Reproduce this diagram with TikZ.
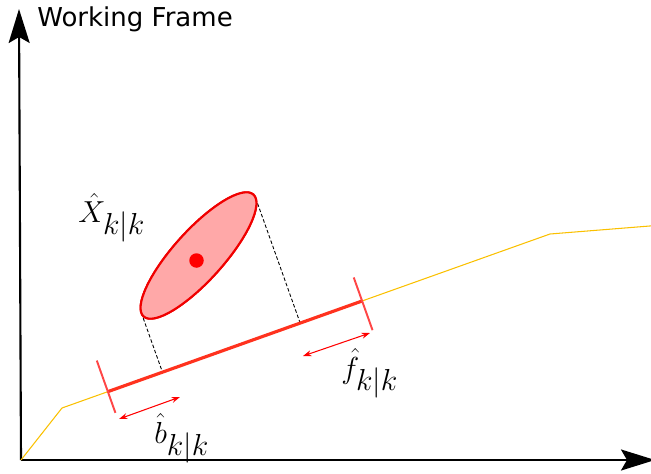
\documentclass[tikz,border=0pt]{standalone}
\usepackage{fontspec}
\usepackage{amsmath}
\usepackage{xcolor}
\usetikzlibrary{shapes.geometric, arrows.meta, positioning, calc}
\newfontfamily\framefont{DejaVu Sans}
\DeclareMathSizes{18}{18}{16}{12}

\definecolor{pathyellow}{RGB}{250,192,0}
\definecolor{segred}{RGB}{255,50,30}
\definecolor{tickred}{RGB}{255,70,70}
\definecolor{covfill}{RGB}{255,168,168}
\definecolor{covred}{RGB}{240,0,0}

\begin{document}
\begin{tikzpicture}[font=\fontsize{18}{21}\selectfont,
    axis/.style={line width=1.2pt, -{Stealth[length=0.68cm, width=0.42cm, inset=0.12cm]}},
    track/.style={pathyellow, line width=0.6pt},
    segment/.style={segred, line width=1.8pt},
    tickline/.style={tickred, line width=1.1pt},
    projline/.style={black, line width=0.5pt, dash pattern=on 2pt off 1.2pt},
    covell/.style={ellipse, draw=covred, fill=covfill, line width=1.2pt, inner sep=0pt,
        minimum width=3.28cm, minimum height=1cm},
    mean/.style={circle, fill=red, inner sep=0pt, minimum size=0.29cm},
    bound/.style={red, line width=0.6pt, {Stealth[length=0.17cm, width=0.12cm]}-{Stealth[length=0.17cm, width=0.12cm]}},
    lbl/.style={anchor=base west, inner sep=0pt}
]
\useasboundingbox (-0.42,-0.26) rectangle (12.6,9.2);

% Axes
\coordinate (origin) at (0,0);
\coordinate (ytip) at (-0.04,9.02);
\coordinate (xtip) at (12.68,0);
\draw[axis] (origin) -- (ytip);
\draw[axis] (origin) -- (xtip);
\node[lbl, font=\framefont\fontsize{14.8}{17}\selectfont] (frame) at (0.32,8.66) {Working Frame};

% Track
\coordinate (p1) at (0.82,1.04);
\coordinate (p2) at (10.58,4.52);
\coordinate (p3) at (12.7,4.69);
\draw[track] (origin) -- (p1) -- (p2) -- (p3);

% Segment and its end marks
\coordinate (segL) at ($(p1)!0.094!(p2)$);
\coordinate (segR) at ($(p1)!0.615!(p2)$);
\coordinate (tickLtop) at ($(segL)!0.66cm!90:(segR)$);
\coordinate (tickLbot) at ($(segL)!0.45cm!-90:(segR)$);
\coordinate (tickRtop) at ($(segR)!0.5cm!-90:(segL)$);
\coordinate (tickRbot) at ($(segR)!0.62cm!90:(segL)$);

% Estimate
\node[covell, rotate=48] (cov) at (3.55,4.09) {};
\begin{scope}[shift={(cov.center)}, rotate=48]
\coordinate (tanA) at (-9.4:1.64 and 0.5);
\coordinate (tanB) at (170.6:1.64 and 0.5);
\end{scope}
\draw[projline] (tanA) -- ($(segL)!(tanA)!(segR)$);
\draw[projline] (tanB) -- ($(segL)!(tanB)!(segR)$);
\draw[segment] (segL) -- (segR);
\draw[tickline] (tickLtop) -- (tickLbot);
\draw[tickline] (tickRtop) -- (tickRbot);
\node[covell, rotate=48] at (cov.center) {};
\node[mean] (xhat) at (3.51,3.99) {};

% Bounds
\coordinate (bA) at (1.96,0.82);
\coordinate (bB) at (3.18,1.26);
\coordinate (fA) at (5.64,2.08);
\coordinate (fB) at (6.98,2.54);
\draw[bound] (bA) -- (bB);
\draw[bound] (fA) -- (fB);

% Labels
\node[lbl] (xlbl) at (1.14,4.76) {$\hat{X}_{k|k}$};
\node[lbl] (blbl) at (2.66,0.34) {$\hat{b}_{k|k}$};
\node[lbl] (flbl) at (6.4,1.64) {$\hat{f}_{k|k}$};
\end{tikzpicture}
\end{document}
